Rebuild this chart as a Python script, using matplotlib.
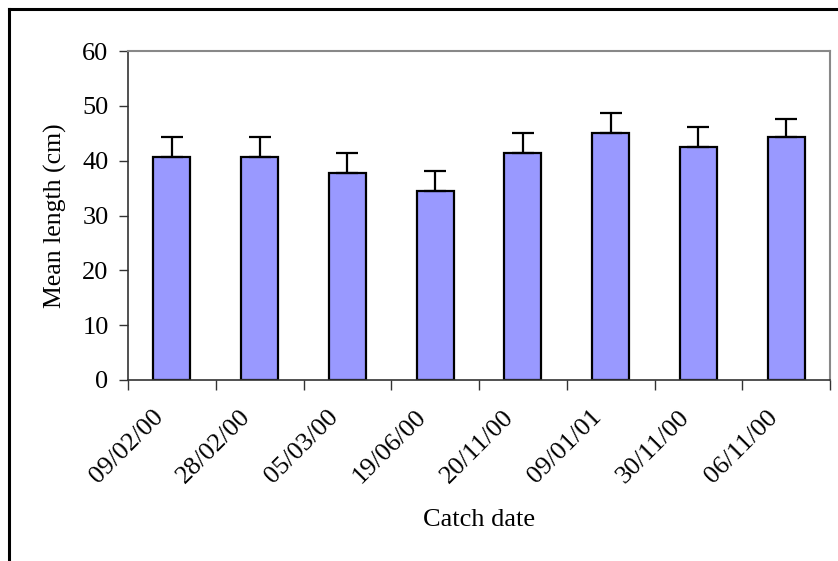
import matplotlib
matplotlib.use("Agg")
import matplotlib.pyplot as plt
from matplotlib.lines import Line2D
import numpy as np

categories = ["09/02/00", "28/02/00", "05/03/00", "19/06/00",
              "20/11/00", "09/01/01", "30/11/00", "06/11/00"]
means = [40.7, 40.7, 37.7, 34.4, 41.4, 45.0, 42.5, 44.3]
errors = [3.6, 3.6, 3.7, 3.7, 3.6, 3.7, 3.7, 3.3]
y_ticks = [0, 10, 20, 30, 40, 50, 60]

plt.rcParams['font.family'] = ['Liberation Serif', 'DejaVu Serif']
FS = 19

W, H = 838, 561
fig = plt.figure(figsize=(W / 100, H / 100), dpi=100)

left, right, top, bottom = 128, 830, 51, 380
ax = fig.add_axes([left / W, 1 - bottom / H, (right - left) / W, (bottom - top) / H])

x = np.arange(len(categories))
ax.bar(x, means, width=0.42, color="#9999FF", edgecolor="black", linewidth=1.6, zorder=2)
ax.errorbar(x, means, yerr=[np.zeros(len(errors)), errors], fmt="none",
            ecolor="black", elinewidth=1.6, capsize=8, capthick=1.6, zorder=3)

ax.set_xlim(-0.5, len(categories) - 0.5)
ax.set_ylim(0, 60)
ax.set_yticks(y_ticks)
ax.set_yticklabels([str(v) for v in y_ticks], fontsize=FS)

# tick marks at category boundaries
ax.set_xticks(np.arange(len(categories) + 1) - 0.5)
ax.set_xticklabels([])
ax.tick_params(axis="x", which="major", length=7, width=1, color="#333333", direction="out")
ax.tick_params(axis="y", length=6.5, width=1, color="#333333", direction="out", pad=7.5)

# category labels, rotated 45 degrees
for i, lab in enumerate(categories):
    ax.annotate(lab, xy=(x[i], 0), xycoords=("data", "axes fraction"),
                xytext=(-20, -26), textcoords="offset pixels",
                ha="right", va="top", rotation=45, rotation_mode="anchor",
                fontsize=FS, annotation_clip=False)

for s in ["left", "bottom"]:
    ax.spines[s].set_color("#333333")
    ax.spines[s].set_linewidth(1.2)
for s in ["top", "right"]:
    ax.spines[s].set_color("#888888")
    ax.spines[s].set_linewidth(1.5)

fig.text(479 / W, 1 - 520 / H, "Catch date", fontsize=FS, ha="center", va="center")
fig.text(55 / W, 1 - 216 / H, "Mean length (cm)", fontsize=18.5, ha="center",
         va="center", rotation=90)

# outer chart border (top and left visible)
fig.add_artist(Line2D([9 / W, 1.0], [1 - 9 / H, 1 - 9 / H], color="black", linewidth=2.2,
                      transform=fig.transFigure))
fig.add_artist(Line2D([9 / W, 9 / W], [0, 1 - 9 / H], color="black", linewidth=2.2,
                      transform=fig.transFigure))

fig.savefig("out.png", dpi=100)
